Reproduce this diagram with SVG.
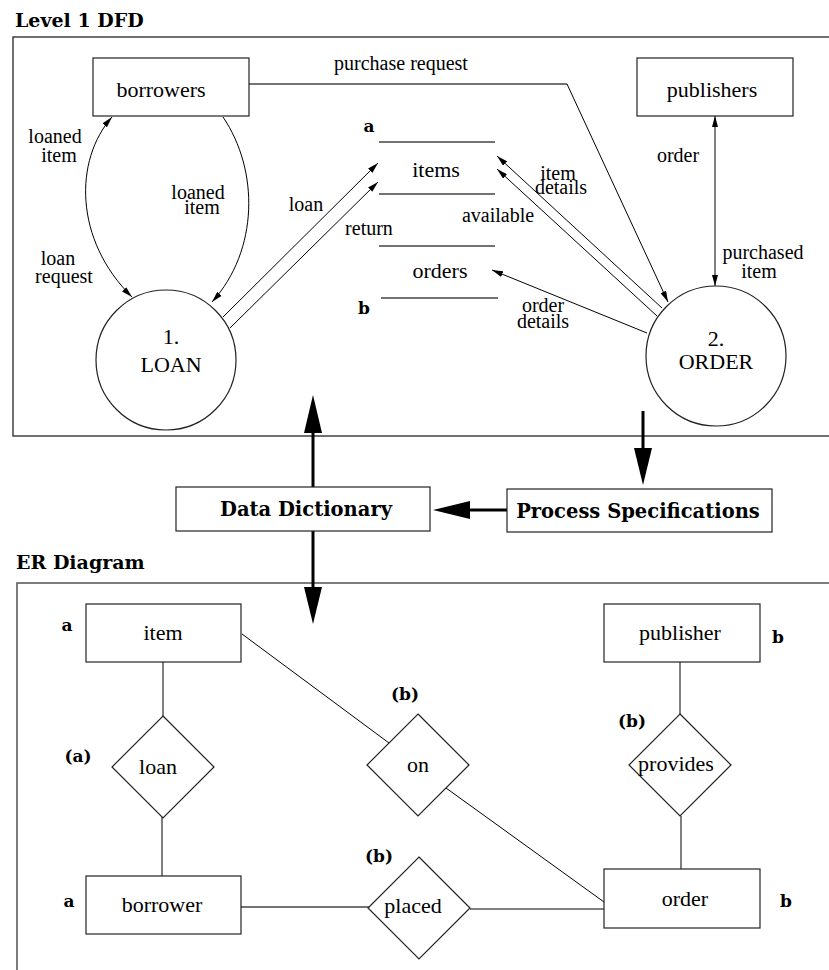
<svg xmlns="http://www.w3.org/2000/svg" width="829" height="970" viewBox="0 0 829 970">
<defs>
<style>
.frame{fill:none;stroke:#333;stroke-width:1.4}
.frame2{fill:none;stroke:#666;stroke-width:1.7}
.box{fill:#fff;stroke:#222;stroke-width:1.2}
.thin{fill:none;stroke:#000;stroke-width:1}
.gl{fill:none;stroke:#444;stroke-width:1.4}
.thick{fill:none;stroke:#000;stroke-width:3}
.head{fill:#000;stroke:none}
text{font-family:"Liberation Serif","DejaVu Serif",serif;fill:#000}
.main{font-size:22px;text-anchor:middle}
.sm{font-size:20px;text-anchor:middle}
.ttl{font-family:"DejaVu Serif",serif;font-weight:bold;font-size:19px}
.bl{font-family:"DejaVu Serif",serif;font-weight:bold;font-size:17px;text-anchor:middle}
.bx{font-family:"DejaVu Serif",serif;font-weight:bold;font-size:19.5px;text-anchor:middle}
</style>
<marker id="ah" viewBox="0 0 11 6" refX="11" refY="3" markerWidth="11" markerHeight="6" markerUnits="userSpaceOnUse" orient="auto-start-reverse">
<path d="M0,0 L11,3 L0,6 z" fill="#000"/>
</marker>
</defs>
<rect width="829" height="970" fill="#fff"/>

<g id="frames">
<text class="ttl" x="15" y="27">Level 1 DFD</text>
<rect class="frame" x="13" y="37" width="830" height="399"/>
<text class="ttl" x="16" y="569">ER Diagram</text>
<rect class="frame2" x="17" y="583" width="830" height="400"/>
</g>

<g id="connectors">
<path class="thin" d="M132,297 C74,240 74,160 112,117" marker-start="url(#ah)" marker-end="url(#ah)"/>
<path class="thin" d="M223,117 C259,170 259,250 212,302" marker-end="url(#ah)"/>
<path class="thin" d="M223,317 L378,163" marker-end="url(#ah)"/>
<path class="thin" d="M230,328 L378,182" marker-end="url(#ah)"/>
<path class="gl" d="M249,84 L567,84"/>
<path class="thin" d="M567,84 L668,302" marker-end="url(#ah)"/>
<path class="thin" d="M715,116 L715,286" marker-start="url(#ah)" marker-end="url(#ah)"/>
<path class="thin" d="M662,308 L497,156" marker-end="url(#ah)"/>
<path class="thin" d="M657,316 L497,169" marker-end="url(#ah)"/>
<path class="thin" d="M647,333 L492,270" marker-end="url(#ah)"/>
<path class="thick" d="M313,487 L313,430"/>
<polygon class="head" points="313,395 304,433 322,433"/>
<path class="thick" d="M643,411 L643,450"/>
<polygon class="head" points="643,485 634,448 652,448"/>
<path class="thick" d="M507,510 L468,510"/>
<polygon class="head" points="433,510 470,501 470,519"/>
<path class="thick" d="M313,531 L313,590"/>
<polygon class="head" points="313,624 304,587 322,587"/>
<path class="thin" d="M163,662 L163,716"/>
<path class="thin" d="M162,817 L162,876"/>
<path class="thin" d="M242,634 L389,743"/>
<path class="thin" d="M446,788 L604,902"/>
<path class="gl" d="M241,907 L369,907"/>
<path class="thin" d="M470,909 L604,909"/>
<path class="thin" d="M680,662 L680,714"/>
<path class="thin" d="M681,816 L681,869"/>
</g>

<g id="dfd-labels">
<text class="sm" x="401" y="70">purchase request</text>
<text class="sm" x="55" y="143">loaned</text>
<text class="sm" x="59" y="162">item</text>
<text class="sm" x="198" y="199">loaned</text>
<text class="sm" x="202" y="214">item</text>
<text class="sm" x="58" y="265">loan</text>
<text class="sm" x="64" y="283">request</text>
<text class="sm" x="306" y="211">loan</text>
<text class="sm" x="369" y="235">return</text>
<text class="sm" x="558" y="180">item</text>
<text class="sm" x="561" y="194">details</text>
<text class="sm" x="498" y="222">available</text>
<text class="sm" x="543" y="312">order</text>
<text class="sm" x="543" y="328">details</text>
<text class="sm" x="678" y="162">order</text>
<text class="sm" x="763" y="259">purchased</text>
<text class="sm" x="759" y="278">item</text>
</g>

<g id="borrowers">
<rect class="box" x="93" y="58" width="156" height="58"/>
<text class="main" x="161" y="97">borrowers</text>
</g>
<g id="publishers">
<rect class="box" x="637" y="58" width="156" height="58"/>
<text class="main" x="712" y="97">publishers</text>
</g>
<g id="store-items">
<line class="gl" x1="379" y1="142" x2="495" y2="142"/>
<line class="gl" x1="379" y1="194" x2="495" y2="194"/>
<text class="main" x="436" y="177">items</text>
<text class="bl" x="369" y="132">a</text>
</g>
<g id="store-orders">
<line class="gl" x1="379" y1="246" x2="495" y2="246"/>
<line class="gl" x1="381" y1="298" x2="498" y2="298"/>
<text class="main" x="440" y="278">orders</text>
<text class="bl" x="364" y="314">b</text>
</g>
<g id="loan-process">
<circle class="box" cx="166" cy="360" r="70"/>
<text class="main" x="171" y="344">1.</text>
<text class="main" x="171" y="372">LOAN</text>
</g>
<g id="order-process">
<circle class="box" cx="716" cy="356" r="70"/>
<text class="main" x="716" y="346">2.</text>
<text class="main" x="716" y="369">ORDER</text>
</g>

<g id="data-dictionary">
<rect class="box" x="176" y="487" width="254" height="44"/>
<text class="bx" x="306" y="516">Data Dictionary</text>
</g>
<g id="process-specifications">
<rect class="box" x="507" y="489" width="265" height="43"/>
<text class="bx" x="638" y="518">Process Specifications</text>
</g>

<g id="er-item">
<rect class="box" x="86" y="604" width="155" height="58"/>
<text class="main" x="163" y="640">item</text>
<text class="bl" x="67" y="631">a</text>
</g>
<g id="er-publisher">
<rect class="box" x="604" y="604" width="156" height="58"/>
<text class="main" x="680" y="640">publisher</text>
<text class="bl" x="778" y="643">b</text>
</g>
<g id="er-loan">
<polygon class="box" points="163,716 214,767 163,818 112,767"/>
<text class="main" x="158" y="774">loan</text>
<text class="bl" x="78" y="762">(a)</text>
</g>
<g id="er-on">
<polygon class="box" points="418,714 469,765 418,816 367,765"/>
<text class="main" x="418" y="772">on</text>
<text class="bl" x="405" y="700">(b)</text>
</g>
<g id="er-provides">
<polygon class="box" points="680,714 731,765 680,816 629,765"/>
<text class="main" x="676" y="771">provides</text>
<text class="bl" x="632" y="727">(b)</text>
</g>
<g id="er-borrower">
<rect class="box" x="86" y="876" width="155" height="58"/>
<text class="main" x="162" y="912">borrower</text>
<text class="bl" x="69" y="907">a</text>
</g>
<g id="er-placed">
<polygon class="box" points="419,857 470,908 419,959 368,908"/>
<text class="main" x="413" y="913">placed</text>
<text class="bl" x="379" y="862">(b)</text>
</g>
<g id="er-order">
<rect class="box" x="604" y="869" width="156" height="59"/>
<text class="main" x="685" y="906">order</text>
<text class="bl" x="786" y="907">b</text>
</g>
</svg>
